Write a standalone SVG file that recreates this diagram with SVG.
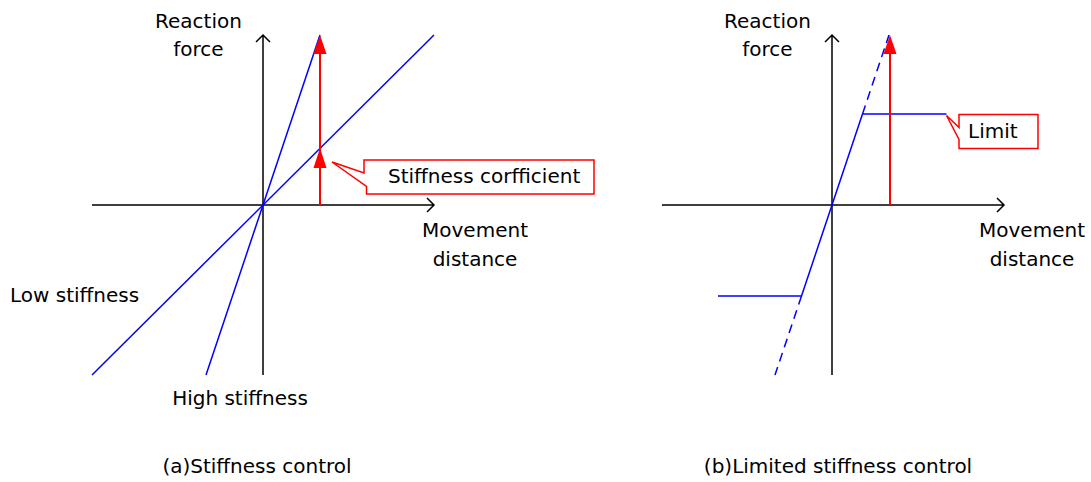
<svg xmlns="http://www.w3.org/2000/svg" width="1091" height="482" viewBox="0 0 1091 482">
<style>
.t{font-family:"DejaVu Sans","Noto Sans",sans-serif;font-size:20px;fill:#000}
.c{text-anchor:middle}
.ax{stroke:#000;stroke-width:1.5;fill:none}
.bl{stroke:#0000ff;stroke-width:1.5;fill:none}
.dash{stroke-dasharray:9,6}
.rd{stroke:#ff0000;stroke-width:2;fill:none}
.tri{fill:#ff0000;stroke:none}
.co{fill:#fff;stroke:#ff0000;stroke-width:1.5}
</style>
<rect width="1091" height="482" fill="#fff"/>
<g id="chart-a">
  <g id="axes-a">
    <path class="ax" d="M263,375 V35 M256,42 L263,35 L270,42"/>
    <path class="ax" d="M92,205 H434 M427,198 L434,205 L427,212"/>
  </g>
  <g id="lines-a">
    <path class="bl" d="M206,375 L320,35"/>
    <path class="bl" d="M92,375 L434,35"/>
  </g>
  <g id="arrow-a">
    <path class="rd" d="M320,205 V50"/>
    <path class="tri" d="M320,35 L326.5,54 L313.5,54 Z"/>
    <path class="tri" d="M320,148 L326.5,168 L313.5,168 Z"/>
  </g>
  <g id="callout-stiffness">
    <path class="co" d="M364,160 H594 V194 H366.5 V186.5 L332,162 L364,173 Z"/>
    <text class="t" x="388" y="183">Stiffness corfficient</text>
  </g>
  <g id="labels-a">
    <text class="t c" x="198.5" y="28">Reaction</text>
    <text class="t c" x="198.5" y="56">force</text>
    <text class="t c" x="475" y="237">Movement</text>
    <text class="t c" x="475" y="266">distance</text>
    <text class="t" x="10" y="302">Low stiffness</text>
    <text class="t c" x="240" y="405">High stiffness</text>
    <text class="t c" x="257" y="473">(a)Stiffness control</text>
  </g>
</g>
<g id="chart-b">
  <g id="axes-b">
    <path class="ax" d="M832,375 V35 M825,42 L832,35 L839,42"/>
    <path class="ax" d="M662,205 H1004 M997,198 L1004,205 L997,212"/>
  </g>
  <g id="lines-b">
    <path class="bl" d="M801.5,296 L862.5,114"/>
    <path class="bl dash" d="M862.5,114 L889,35"/>
    <path class="bl dash" d="M801.5,296 L775,375"/>
    <path class="bl" d="M862.5,114 H946.5"/>
    <path class="bl" d="M718,296 H801.5"/>
  </g>
  <g id="arrow-b">
    <path class="rd" d="M890,205 V50"/>
    <path class="tri" d="M890,35 L896.5,54 L883.5,54 Z"/>
  </g>
  <g id="callout-limit">
    <path class="co" d="M959,114.5 H1038 V148.5 H959 V139.5 L946.5,115.5 L959,127.5 Z"/>
    <text class="t" x="968" y="138">Limit</text>
  </g>
  <g id="labels-b">
    <text class="t c" x="767.5" y="28">Reaction</text>
    <text class="t c" x="767.5" y="56">force</text>
    <text class="t c" x="1032" y="237">Movement</text>
    <text class="t c" x="1032" y="266">distance</text>
    <text class="t c" x="838" y="473">(b)Limited stiffness control</text>
  </g>
</g>
</svg>
